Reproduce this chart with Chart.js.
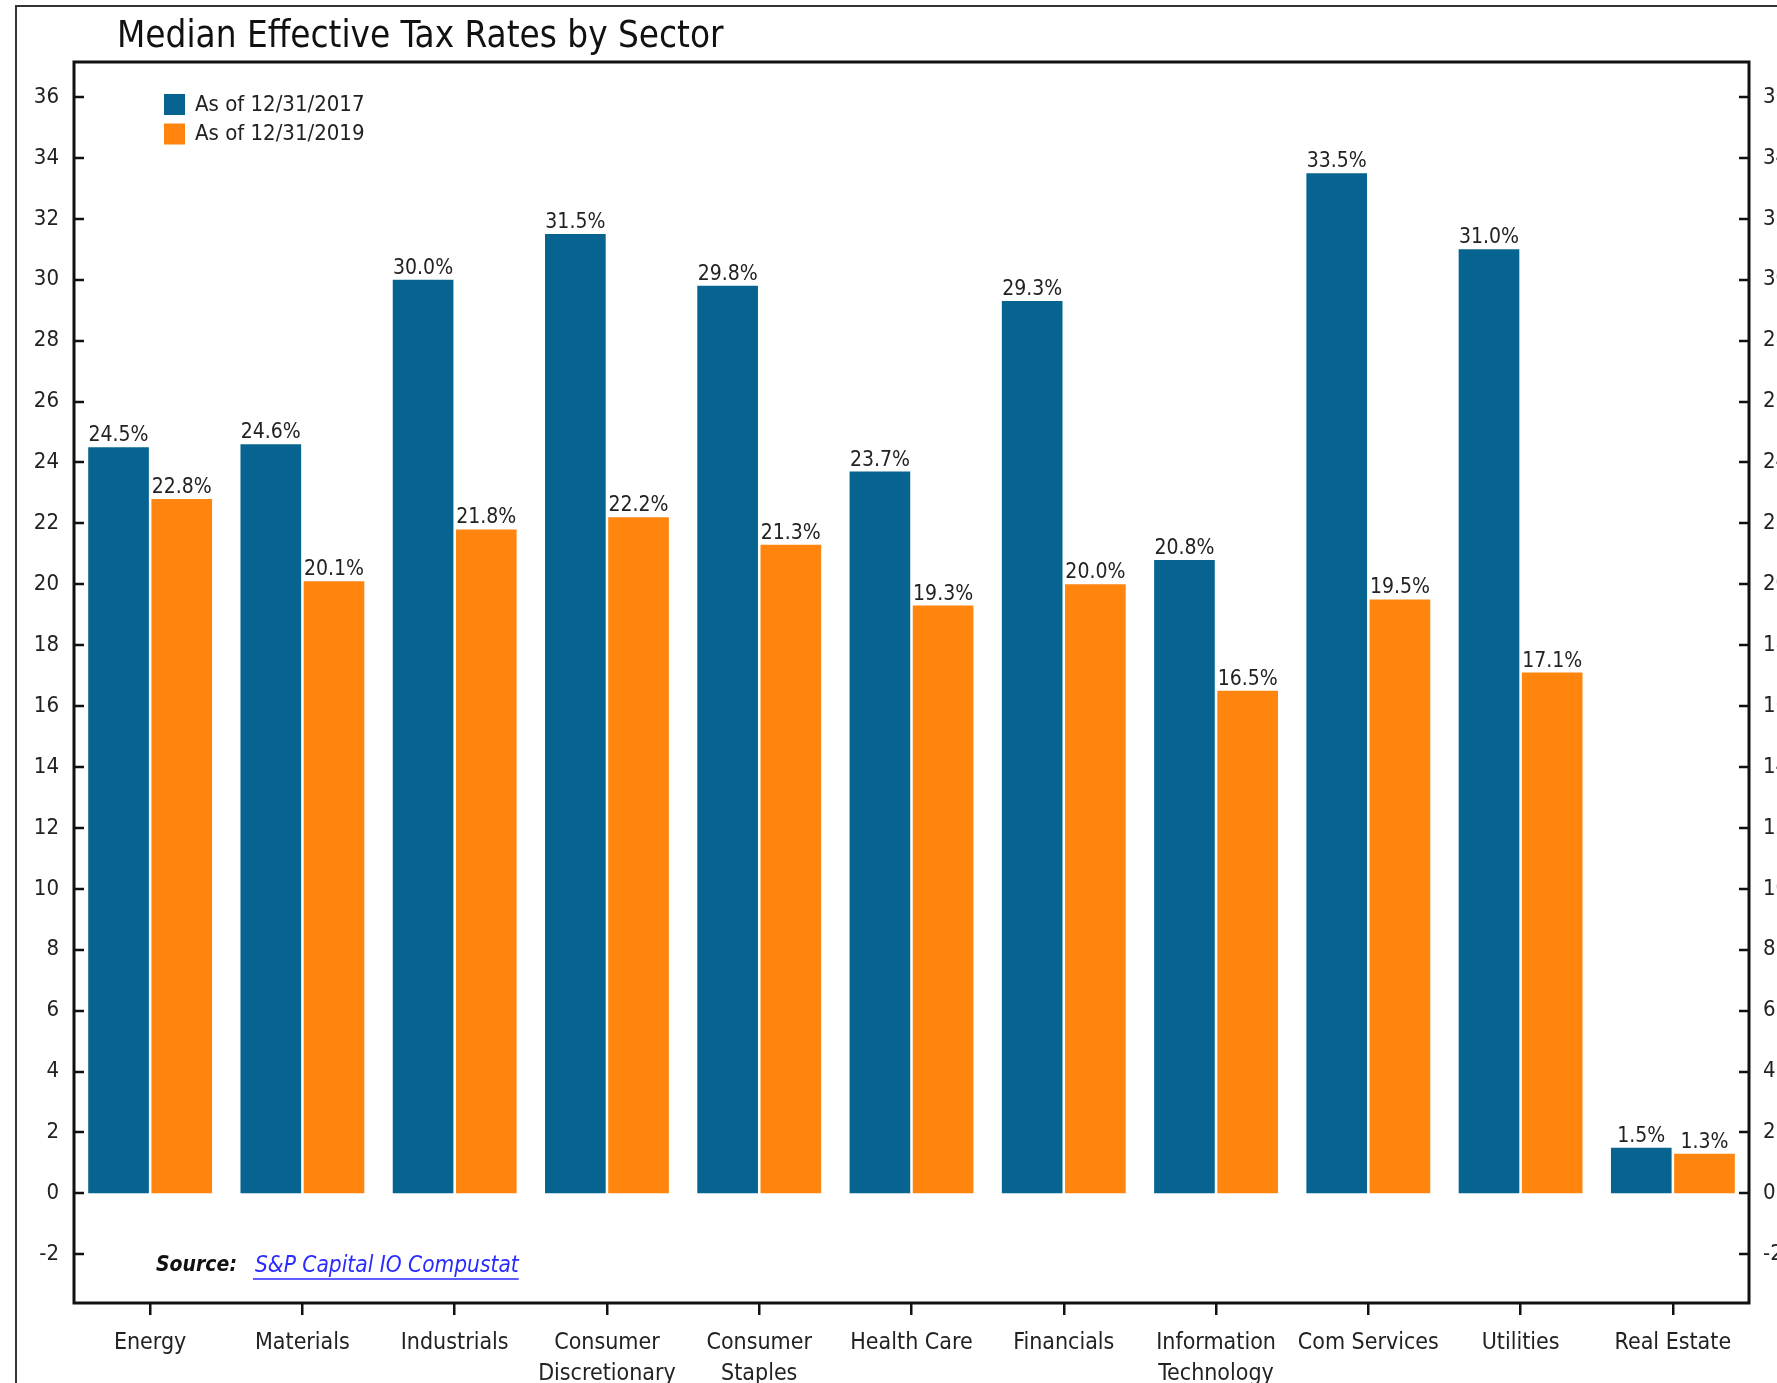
<!DOCTYPE html>
<html>
<head>
<meta charset="utf-8">
<script src="https://cdn.jsdelivr.net/npm/chart.js@4.4.0/dist/chart.umd.min.js"></script>
<style>
  html, body { margin: 0; padding: 0; background: #fff; }
  canvas { display: block; }
</style>
</head>
<body>
<canvas id="taxChart" width="1777" height="1383"></canvas>
<script>
const sectors = ['Energy', 'Materials', 'Industrials', ['Consumer', 'Discretionary'], ['Consumer', 'Staples'],
  'Health Care', 'Financials', ['Information', 'Technology'], 'Com Services', 'Utilities', 'Real Estate']
const rates2017 = [24.5, 24.6, 30.0, 31.5, 29.8, 23.7, 29.3, 20.8, 33.5, 31.0, 1.5]
const rates2019 = [22.8, 20.1, 21.8, 22.2, 21.3, 19.3, 20.0, 16.5, 19.5, 17.1, 1.3]
const seriesNames = ['As of 12/31/2017', 'As of 12/31/2019']
const yTicks = [-2, 0, 2, 4, 6, 8, 10, 12, 14, 16, 18, 20, 22, 24, 26, 28, 30, 32, 34, 36]
const chartTitle = 'Median Effective Tax Rates by Sector'

const FONT = "'Liberation Sans Narrow', 'DejaVu Sans Condensed', sans-serif"
const BLUE = '#07638f'
const ORANGE = '#ff850f'

// frame, title, legend, box, inward ticks, value labels, source
const decorations = {
  id: 'decorations',
  beforeDraw(chart) {
    const c = chart.ctx
    c.save()
    c.fillStyle = '#fff'
    c.fillRect(0, 0, chart.width, chart.height)
    c.strokeStyle = '#333'
    c.lineWidth = 2
    c.beginPath()
    c.moveTo(chart.width + 5, 6)
    c.lineTo(16, 6)
    c.lineTo(16, chart.height + 5)
    c.stroke()
    c.fillStyle = '#111'
    c.font = '36.5px ' + FONT
    c.textBaseline = 'middle'
    c.fillText(chartTitle, 117, 38)
    c.restore()
  },
  afterDatasetsDraw(chart) {
    const c = chart.ctx
    c.save()
    c.fillStyle = '#222'
    c.font = '21px ' + FONT
    c.textAlign = 'center'
    c.textBaseline = 'bottom'
    chart.data.datasets.forEach((ds, i) => {
      chart.getDatasetMeta(i).data.forEach((bar, j) => {
        c.fillText(ds.data[j].toFixed(1) + '%', bar.x, bar.y - 1)
      })
    })
    c.restore()
  },
  afterDraw(chart) {
    const c = chart.ctx
    const a = chart.chartArea
    const y = chart.scales.y
    c.save()
    c.strokeStyle = '#111'
    c.lineWidth = 3
    c.strokeRect(a.left, a.top, a.right - a.left, a.bottom - a.top)
    c.lineWidth = 2.5
    yTicks.forEach(v => {
      const py = Math.round(y.getPixelForValue(v))
      c.beginPath()
      c.moveTo(a.left, py); c.lineTo(a.left + 10, py)
      c.moveTo(a.right, py); c.lineTo(a.right - 10, py)
      c.stroke()
    })

    // legend
    c.font = '22px ' + FONT
    c.textBaseline = 'middle'
    chart.data.datasets.forEach((ds, i) => {
      const top = 94 + i * 29.5
      c.fillStyle = ds.backgroundColor
      c.fillRect(164, top, 21, 21)
      c.fillStyle = '#222'
      c.fillText(seriesNames[i], 195, top + 11)
    })

    // source
    c.font = 'italic bold 21px ' + FONT
    c.fillStyle = '#111'
    c.fillText('Source:', 156, 1266)
    c.font = 'italic 22.5px ' + FONT
    c.fillStyle = '#2a2aff'
    const src = 'S&P Capital IO Compustat'
    c.fillText(src, 255, 1266)
    const w = c.measureText(src).width
    c.strokeStyle = '#2a2aff'
    c.lineWidth = 1.5
    c.beginPath()
    c.moveTo(253, 1279); c.lineTo(255 + w, 1279)
    c.stroke()
    c.restore()
  }
}

new Chart(document.getElementById('taxChart').getContext('2d'), {
  type: 'bar',
  data: {
    labels: sectors,
    datasets: [
      { label: seriesNames[0], data: rates2017, backgroundColor: BLUE },
      { label: seriesNames[1], data: rates2019, backgroundColor: ORANGE }
    ]
  },
  options: {
    responsive: false,
    animation: false,
    layout: { padding: { top: 62, left: 0, right: 0, bottom: 0 } },
    datasets: { bar: { categoryPercentage: 0.83, barPercentage: 0.96 } },
    plugins: { legend: { display: false }, tooltip: { enabled: false }, title: { display: false } },
    scales: {
      x: {
        grid: { display: true, offset: false, drawOnChartArea: false, drawTicks: true, tickLength: 12, color: '#111', lineWidth: 2.5 },
        border: { display: false },
        ticks: { color: '#222', font: { family: FONT, size: 23, lineHeight: 1.33 }, padding: 13, maxRotation: 0, autoSkip: false },
        afterFit(scale) { scale.height = 80 }
      },
      y: {
        position: 'left',
        min: -3.6, max: 37.15,
        grid: { display: false, drawTicks: false },
        border: { display: false },
        ticks: { color: '#222', font: { family: FONT, size: 22 }, padding: 15 },
        afterBuildTicks(scale) { scale.ticks = yTicks.map(v => ({ value: v })) },
        afterFit(scale) { scale.width = 74 }
      },
      y2: {
        position: 'right',
        min: -3.6, max: 37.15,
        grid: { display: false, drawTicks: false },
        border: { display: false },
        ticks: { color: '#222', font: { family: FONT, size: 22 }, padding: 14 },
        afterBuildTicks(scale) { scale.ticks = yTicks.map(v => ({ value: v })) },
        afterFit(scale) { scale.width = 28 }
      }
    }
  },
  plugins: [decorations]
})
</script>
</body>
</html>
